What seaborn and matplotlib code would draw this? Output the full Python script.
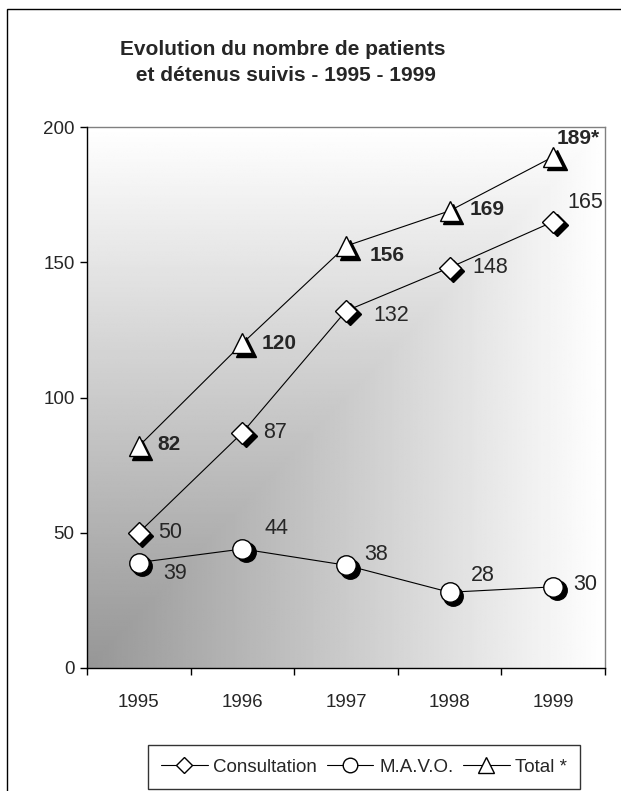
import numpy as np
import pandas as pd
import seaborn as sns
import matplotlib
matplotlib.use('Agg')
from matplotlib import pyplot as plt
from matplotlib import transforms
from matplotlib.lines import Line2D
from matplotlib.patches import Rectangle

# data
years = ['1995', '1996', '1997', '1998', '1999']
consultation = [50, 87, 132, 148, 165]
mavo = [39, 44, 38, 28, 30]
total = [82, 120, 156, 169, 189]
total_labels = ['82', '120', '156', '169', '189*']

sns.set_theme(style='white')
plt.rcParams['font.family'] = ['Liberation Sans', 'DejaVu Sans']

fig = plt.figure(figsize=(6.21, 7.91), dpi=100)
ax = fig.add_axes([87/621, 1 - 668/791, (605 - 87)/621, (668 - 127)/791])

# corner gradient in the plot area: dark at bottom-left, white elsewhere
u = np.linspace(0, 1, 300)
U, V = np.meshgrid(u, u[::-1])
shade = np.maximum(U, V)
img = 0.59 + (1.0 - 0.59) * shade
ax.imshow(img, cmap='gray', vmin=0, vmax=1, extent=[-0.5, 4.5, 0, 200],
          aspect='auto', zorder=0, interpolation='bilinear')

x = np.arange(len(years))
df = pd.DataFrame({'x': x, 'Consultation': consultation, 'M.A.V.O.': mavo, 'Total *': total})

series = [('Consultation', 'D', 11), ('M.A.V.O.', 'o', 14), ('Total *', '^', 15)]
shadow = transforms.offset_copy(ax.transData, fig=fig, x=3.5, y=-3.5, units='dots')
for name, mk, ms in series:
    sns.lineplot(data=df, x='x', y=name, color='black', linewidth=0.8, ax=ax, zorder=2)
    ax.plot(df['x'], df[name], linestyle='none', marker=mk, markersize=ms,
            color='black', transform=shadow, zorder=3)
    ax.plot(df['x'], df[name], linestyle='none', marker=mk, markersize=ms,
            markerfacecolor='white', markeredgecolor='black', markeredgewidth=1, zorder=4)

# data labels, offsets in pixels
cons_off = [(19, 0), (21, 0), (27, -5), (23, 0), (14, 19)]
mavo_off = [(24, -11), (22, 20), (18, 11), (21, 17), (20, 2)]
tot_off = [(19, 2), (19, 0), (24, -9), (20, 1), (3, 18)]
for i in range(len(years)):
    ax.annotate(str(consultation[i]), (x[i], consultation[i]), xytext=cons_off[i],
                textcoords='offset pixels', ha='left', va='center', fontsize=15.5, zorder=5)
    ax.annotate(str(mavo[i]), (x[i], mavo[i]), xytext=mavo_off[i],
                textcoords='offset pixels', ha='left', va='center', fontsize=15.5, zorder=5)
    ax.annotate(total_labels[i], (x[i], total[i]), xytext=tot_off[i],
                textcoords='offset pixels', ha='left', va='center', fontsize=15,
                fontweight='bold', zorder=5, annotation_clip=False,
                family=['Liberation Sans Narrow', 'Liberation Sans', 'DejaVu Sans'])

ax.set_xlim(-0.5, 4.5)
ax.set_ylim(0, 200)
ax.set_xticks(x)
ax.set_xticklabels(years)
ax.set_xticks(np.arange(-0.5, 5, 1), minor=True)
ax.set_yticks([0, 50, 100, 150, 200])
ax.set_xlabel('')
ax.set_ylabel('')
ax.tick_params(axis='x', which='major', length=0, pad=19, labelsize=13.5)
ax.tick_params(axis='x', which='minor', length=5, width=1, color='black', direction='out', bottom=True)
ax.tick_params(axis='y', length=5, width=1, color='black', direction='out', pad=4, labelsize=13.5, left=True)
for side in ['left', 'bottom']:
    ax.spines[side].set_color('black')
    ax.spines[side].set_linewidth(1)
for side in ['top', 'right']:
    ax.spines[side].set_color('#808080')
    ax.spines[side].set_linewidth(1)
ax.spines['left'].set_zorder(6)
ax.spines['bottom'].set_zorder(6)

fig.text(0.455, 1 - 62.5/791, 'Evolution du nombre de patients\n et détenus suivis - 1995 - 1999',
         ha='center', va='center', fontsize=15, fontweight='bold', linespacing=1.5)

# legend
handles = [Line2D([], [], color='black', linewidth=0.8, marker=mk, markersize=ms * 0.75,
                  markerfacecolor='white', markeredgecolor='black', label=name)
           for name, mk, ms in series]
leg = fig.legend(handles=handles, loc='center', bbox_to_anchor=(364/621, 1 - 767/791),
                 ncol=3, frameon=True, fancybox=False, edgecolor='black', fontsize=13.5,
                 handlelength=2.5, columnspacing=0.5, handletextpad=0.3, borderpad=0.7)
leg.get_frame().set_linewidth(1)

# outer chart border
fig.patches.append(Rectangle((7/621, -0.1), 1.0, 1 - 9/791 + 0.1, transform=fig.transFigure,
                             fill=False, edgecolor='black', linewidth=1, clip_on=False))

fig.savefig('out.png', dpi=100)
